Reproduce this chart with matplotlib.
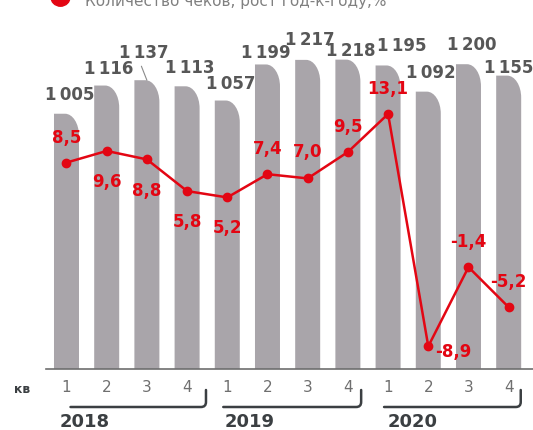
import matplotlib.pyplot as plt
from matplotlib.path import Path
from matplotlib.patches import PathPatch
from matplotlib.lines import Line2D
from matplotlib.transforms import blended_transform_factory, IdentityTransform

# quarterly receipts count (thousands) and y/y growth, %
quarters = ["1", "2", "3", "4"] * 3
years = ["2018", "2019", "2020"]
checks = [1005, 1116, 1137, 1113, 1057, 1199, 1217, 1218, 1195, 1092, 1200, 1155]
growth = [8.5, 9.6, 8.8, 5.8, 5.2, 7.4, 7.0, 9.5, 13.1, -8.9, -1.4, -5.2]
legend_label = "Количество чеков, рост год-к-году,%"

# label placement, pixels (dx, dy) from the bar top / point
bar_lbl_off = [(3, 20), (2, 18), (-3, 28), (3, 19), (3, 18), (-2, 12),
               (2, 21), (3, 10), (14, 20), (3, 20), (3, 20), (0, 9)]
pt_lbl_off = [(0, 26), (0, -30), (0, -31), (0, -30), (0, -30), (0, 26),
              (0, 27), (0, 26), (0, 26), (25, -5), (0, 26), (0, 26)]

BAR = "#a9a5aa"
RED = "#e30613"
GREY_TXT = "#575757"
DARK = "#3b3f42"

W, H = 533, 431
fig = plt.figure(figsize=(W / 100, H / 100), dpi=100)
ax = fig.add_axes([40 / W, 61 / H, 493 / W, 340 / H])
xmin, xmax = -0.659, 11.605
ax.set_xlim(xmin, xmax)
ax.set_ylim(0, 1338.6)

# bars with a rounded top-right corner
px_x = 493 / (xmax - xmin)
px_y = 340 / 1338.6
bw = 25 / px_x
rx, ry = 14 / px_x, 22 / px_y
k = 0.5523
for i, v in enumerate(checks):
    x0, x1 = i - bw / 2, i + bw / 2
    cx = x1 - rx
    verts = [(x0, 0), (x0, v), (cx, v),
             (cx + k * rx, v), (x1, v - ry + k * ry), (x1, v - ry),
             (x1, 0), (x0, 0)]
    codes = [Path.MOVETO, Path.LINETO, Path.LINETO,
             Path.CURVE4, Path.CURVE4, Path.CURVE4,
             Path.LINETO, Path.CLOSEPOLY]
    ax.add_patch(PathPatch(Path(verts, codes), facecolor=BAR, edgecolor="none", zorder=2))
    lbl = f"{v:,}".replace(",", "\u2009")
    dx, dy = bar_lbl_off[i]
    ax.annotate(lbl, (i, v), xytext=(dx, dy), textcoords="offset pixels",
                ha="center", va="center", fontsize=12, fontweight="bold",
                color=GREY_TXT, zorder=5)

# leader line for the crowded 1 137 label
ax.annotate("", (2, checks[2]), xytext=(-5.5, 14), textcoords="offset pixels",
            arrowprops=dict(arrowstyle="-", color="#8a8a8a", lw=0.8,
                            shrinkA=0, shrinkB=0))

for s in ["top", "left", "right"]:
    ax.spines[s].set_visible(False)
ax.spines["bottom"].set_bounds(-0.51, xmax)
ax.spines["bottom"].set_color("#6e6e6e")
ax.spines["bottom"].set_linewidth(1.2)
ax.set_yticks([])
ax.set_xticks(range(len(quarters)))
ax.set_xticklabels(quarters, fontsize=11, color="#6f6f6f")
ax.tick_params(axis="x", length=0, pad=7)

# growth line on its own scale
ax2 = ax.twinx()
ax2.set_ylim(-11.05, 21.15)
ax2.axis("off")
ax2.plot(range(len(growth)), growth, color=RED, lw=1.8, marker="o",
         markersize=6, zorder=4)
for i, g in enumerate(growth):
    dx, dy = pt_lbl_off[i]
    ax2.annotate(f"{g:.1f}".replace(".", ","), (i, g), xytext=(dx, dy),
                 textcoords="offset pixels", ha="center", va="center",
                 fontsize=12, fontweight="bold", color=RED, zorder=6)

# year brackets under the quarter labels (x in data, y in pixels)
tr = blended_transform_factory(ax.transData, IdentityTransform())
br_start = [0.1, 3.9, 7.9]
br_end = [3.47, 7.33, 11.3]
year_x = [-0.16, 3.94, 8.0]
yb, yt = 431 - 408, 431 - 391
cr_x, cr_y = 5 / px_x, 5
for x0, x1, yx, yr in zip(br_start, br_end, year_x, years):
    verts = [(x0, yb), (x1 - cr_x, yb), (x1, yb), (x1, yb + cr_y), (x1, yt)]
    codes = [Path.MOVETO, Path.LINETO, Path.CURVE3, Path.CURVE3, Path.LINETO]
    fig.add_artist(PathPatch(Path(verts, codes), transform=tr, facecolor="none",
                             edgecolor=DARK, lw=1.8, capstyle="round"))
    fig.text(yx, 431 - 422, yr, transform=tr, fontsize=13, fontweight="bold",
             color=DARK, ha="left", va="center")

fig.text(14 / W, (431 - 390) / H, "кв", fontsize=9, fontweight="bold",
         color=DARK, ha="left", va="center")

# legend entry, partly cut by the top edge
fig.add_artist(Line2D([60 / W], [434 / H], marker="o", markersize=14,
                      color=RED, transform=fig.transFigure))
fig.text(85 / W, 425 / H, legend_label, fontsize=11, color="#808080",
         ha="left", va="baseline")

fig.savefig("out.png", dpi=100)
